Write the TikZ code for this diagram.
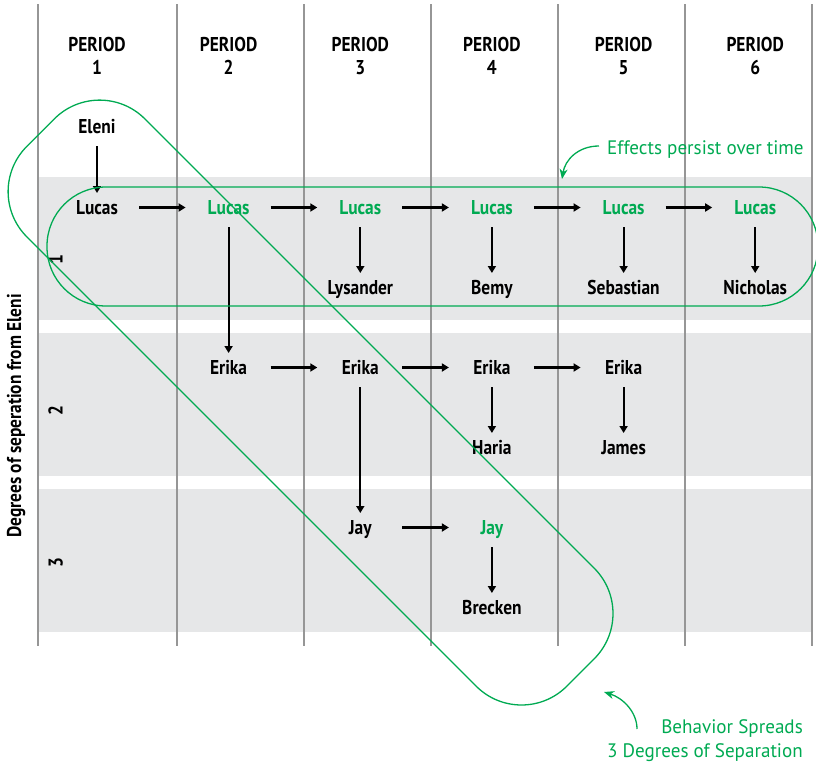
\documentclass[tikz,border=0pt]{standalone}
\usepackage{fontspec}
\setmainfont{PT Sans}[FakeStretch=0.87]
\newfontfamily\lblfont{PT Sans}[FakeStretch=0.98]
\usetikzlibrary{arrows.meta}
\definecolor{grn}{RGB}{0,170,82}
\definecolor{bandgrey}{RGB}{230,231,232}
\definecolor{rulegrey}{RGB}{150,150,150}
\tikzset{
  person/.style={font=\bfseries\fontsize{20}{20}\selectfont, inner sep=0pt, anchor=base},
  hot/.style={person, text=grn},
  head/.style={font=\bfseries\fontsize{20}{20}\selectfont, inner sep=0pt, anchor=base},
  arr/.style={line width=2.2pt, -{Triangle[length=7pt,width=8pt]}},
  greenline/.style={draw=grn, line width=1.3pt},
  greenarr/.style={draw=grn, line width=1.3pt, -{Stealth[length=10pt,width=8pt,inset=3pt]}},
  lbl/.style={font=\lblfont\fontsize{19.5}{19.5}\selectfont, text=grn, inner sep=0pt},
  rowlbl/.style={font=\bfseries\fontsize{20}{20}\selectfont, inner sep=0pt, anchor=base, rotate=90},
}
\begin{document}
\begin{tikzpicture}[x=1pt,y=-1pt]
\useasboundingbox (0,0) rectangle (816,763);
% bands
\fill[bandgrey] (38,177) rectangle (813,320);
\fill[bandgrey] (38,333) rectangle (813,476);
\fill[bandgrey] (38,489) rectangle (813,632);
% column rules
\foreach \x in {38,177,304,431,558,685,812}
  \draw[rulegrey, line width=1.1pt] (\x,4) -- (\x,646);
% headers
\foreach \i/\x in {1/97,2/228.6,3/360.3,4/491.9,5/623.6,6/755.2} {
  \node[head] (h\i) at (\x,51) {PERIOD};
  \node[head] (n\i) at (\x,74) {\i};
}
% left labels
\node[rowlbl] (axis) at (21,416) {Degrees of seperation from Eleni};
\node[rowlbl] (r1) at (62.5,260) {1};
\node[rowlbl] (r2) at (62.5,411) {2};
\node[rowlbl] (r3) at (62.5,563) {3};
% people
\node[person] (eleni) at (97,133) {Eleni};
\node[person] (lu1) at (97,214) {Lucas};
\node[hot] (lu2) at (228.6,214) {Lucas};
\node[hot] (lu3) at (360.3,214) {Lucas};
\node[hot] (lu4) at (491.9,214) {Lucas};
\node[hot] (lu5) at (623.6,214) {Lucas};
\node[hot] (lu6) at (755.2,214) {Lucas};
\node[person] (lys) at (360.3,294) {Lysander};
\node[person] (bemy) at (491.9,294) {Bemy};
\node[person] (seb) at (623.6,294) {Sebastian};
\node[person] (nic) at (755.2,294) {Nicholas};
\node[person] (er2) at (228.6,374) {Erika};
\node[person] (er3) at (360.3,374) {Erika};
\node[person] (er4) at (491.9,374) {Erika};
\node[person] (er5) at (623.6,374) {Erika};
\node[person] (haria) at (491.9,454) {Haria};
\node[person] (james) at (623.6,454) {James};
\node[person] (jay3) at (360.3,534) {Jay};
\node[hot] (jay4) at (491.9,534) {Jay};
\node[person] (brk) at (491.9,614) {Brecken};
% horizontal arrows
\foreach \a/\b in {lu1/lu2,lu2/lu3,lu3/lu4,lu4/lu5,lu5/lu6,er2/er3,er3/er4,er4/er5,jay3/jay4}
  \draw[arr] ([xshift=42pt,yshift=6.5pt]\a.base) -- ([xshift=-43pt,yshift=6.5pt]\b.base);
% vertical arrows
\foreach \a/\b in {eleni/lu1,lu3/lys,lu4/bemy,lu5/seb,lu6/nic,lu2/er2,er3/jay3,er4/haria,er5/james,jay4/brk}
  \draw[arr] ([yshift=-13pt]\a.base) -- ([yshift=21pt]\b.base);
% green enclosures
\draw[greenline, rounded corners=59pt] (430,187) -- (818,187) -- (818,306) -- (47,306) -- (47,187) -- (430,187);
\draw[greenline, rounded corners=64pt] (369.5,343.5) -- (639.5,613.5) -- (521.5,731.5) -- (-18.4,191.6) -- (99.6,73.6) -- (369.5,343.5);
% green notes
\node[lbl, anchor=base west] (eff) at (607,154) {Effects persist over time};
\coordinate (effstart) at (599,146);
\coordinate (efftip) at (562,179);
\draw[greenarr] (effstart) .. controls (578,146) and (565,160) .. (efftip);
\node[lbl, anchor=base east] (beh1) at (803,733) {Behavior Spreads};
\node[lbl, anchor=base east] (beh2) at (803,757) {3 Degrees of Separation};
\coordinate (behstart) at (637,729);
\coordinate (behtip) at (604,692);
\draw[greenarr] (behstart) .. controls (637,712) and (623,698) .. (behtip);
\end{tikzpicture}
\end{document}
